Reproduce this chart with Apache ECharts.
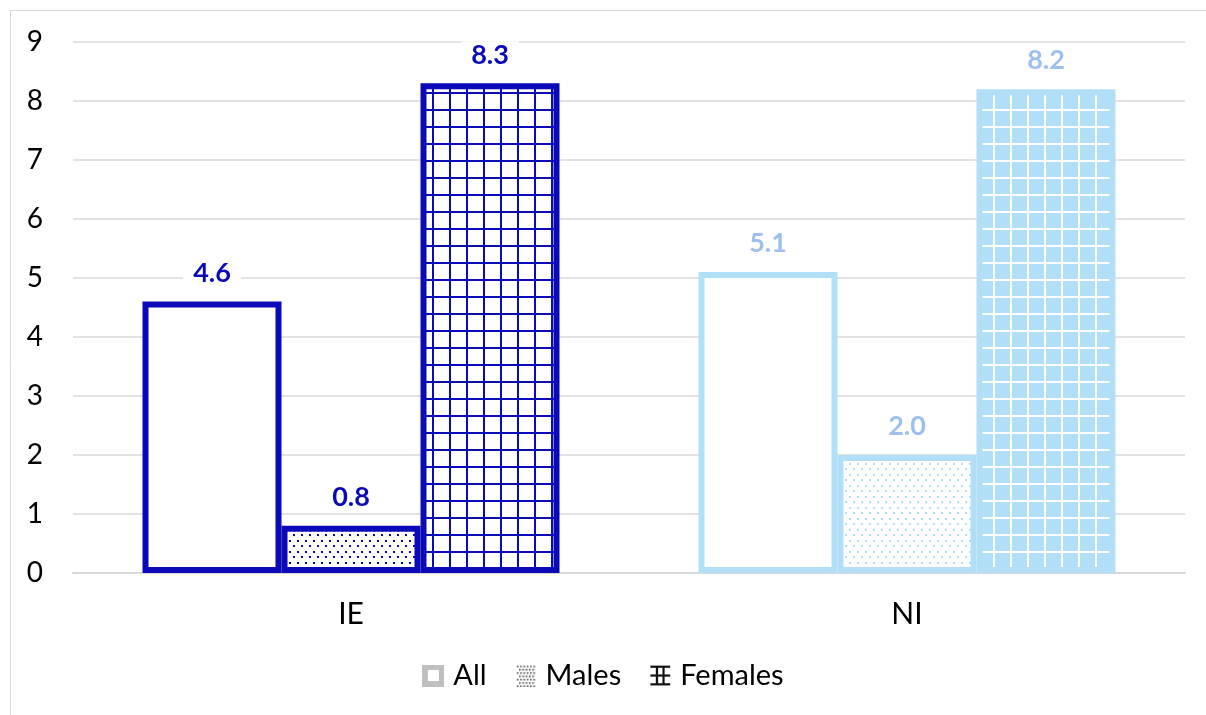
<!DOCTYPE html>
<html>
<head>
<meta charset="utf-8">
<script src="https://cdn.jsdelivr.net/npm/echarts@6/dist/echarts.min.js"></script>
<style>html,body{margin:0;padding:0;background:#fff;}#c{width:1206px;height:715px;}</style>
</head>
<body>
<div id="c"></div>
<script>
var categories = ['IE', 'NI'];
var seriesNames = ['All', 'Males', 'Females'];
var allValues = [4.6, 5.1];
var maleValues = [0.8, 2.0];
var femaleValues = [8.3, 8.2];
var yTicks = [0, 1, 2, 3, 4, 5, 6, 7, 8, 9];

var FONT = 'Lato, "Open Sans", sans-serif';
var dark = '#0A0AB8';
var light = '#B2DFF8';
var darkLabel = '#0A0AB8';
var lightLabel = '#9DBEF0';

function makeCanvas(w, h, draw) {
  var c = document.createElement('canvas');
  c.width = w; c.height = h;
  draw(c.getContext('2d'));
  return c;
}
function dots(color) {
  return makeCanvas(8, 11, function (g) {
    g.fillStyle = '#fff'; g.fillRect(0, 0, 8, 11);
    g.fillStyle = color;
    g.fillRect(1, 1, 2, 2);
    g.fillRect(5, 6, 2, 2);
  });
}
function gridPat(bg, line, w) {
  return makeCanvas(17, 17, function (g) {
    g.fillStyle = bg; g.fillRect(0, 0, 17, 17);
    g.fillStyle = line;
    g.fillRect(7, 0, w, 17);
    g.fillRect(0, 7, 17, w);
  });
}
function pat(c) { return { image: c, repeat: 'repeat' }; }

var BW = 6;
var styles = {
  All: [
    { color: '#fff', borderColor: dark, borderWidth: BW },
    { color: '#fff', borderColor: light, borderWidth: BW }
  ],
  Males: [
    { color: pat(dots(dark)), borderColor: dark, borderWidth: BW },
    { color: pat(dots(light)), borderColor: light, borderWidth: BW }
  ],
  Females: [
    { color: pat(gridPat('#fff', dark, 2)), borderColor: dark, borderWidth: BW },
    { color: pat(gridPat(light, '#fff', 2)), borderColor: light, borderWidth: BW }
  ]
};
var labelColors = [darkLabel, lightLabel];
var valuesByName = { All: allValues, Males: maleValues, Females: femaleValues };

function buildSeries(name) {
  return {
    name: name,
    type: 'bar',
    barWidth: '25%',
    barGap: '0%',
    data: valuesByName[name].map(function (v, i) {
      return {
        value: v,
        itemStyle: styles[name][i],
        label: { color: labelColors[i] }
      };
    }),
    label: {
      show: true,
      position: 'top',
      distance: 15,
      fontFamily: FONT,
      fontWeight: 'bold',
      fontSize: 27,
      backgroundColor: '#fff',
      padding: [0, 10],
      formatter: function (p) { return p.value.toFixed(1); }
    }
  };
}

var legendIconAll = makeCanvas(20, 20, function (g) {
  g.fillStyle = '#BFBFBF'; g.fillRect(0, 0, 20, 20);
  g.fillStyle = '#fff'; g.fillRect(5, 5, 10, 10);
});
var legendIconMale = makeCanvas(20, 20, function (g) {
  g.fillStyle = '#fff'; g.fillRect(0, 0, 20, 20);
  g.fillStyle = '#555';
  for (var y = 1; y < 20; y += 3) for (var x = (y % 2 ? 2 : 4); x < 18; x += 3) g.fillRect(x, y, 1.5, 1.5);
});
var legendIconFemale = makeCanvas(20, 20, function (g) {
  g.fillStyle = '#fff'; g.fillRect(0, 0, 20, 20);
  g.fillStyle = '#111';
  g.fillRect(1, 1, 18, 2); g.fillRect(1, 9, 18, 2); g.fillRect(1, 17, 18, 2);
  g.fillRect(6, 1, 2, 18); g.fillRect(12, 1, 2, 18);
});

var chart = echarts.init(document.getElementById('c'), null, { renderer: 'canvas' });
chart.setOption({
  backgroundColor: '#fff',
  animation: false,
  graphic: [{
    type: 'rect', shape: { x: 10.5, y: 10.5, width: 1200, height: 710 },
    style: { fill: 'none', stroke: '#D9D9D9', lineWidth: 1 }, silent: true
  }],
  grid: { left: 73, right: 21, top: 42, bottom: 142, containLabel: false },
  legend: {
    bottom: 20,
    left: 'center',
    itemWidth: 22,
    itemHeight: 22,
    itemGap: 28,
    textStyle: { fontFamily: FONT, fontSize: 29, color: '#000', padding: [0, 0, 0, 4] },
    data: [
      { name: 'All', icon: 'image://' + legendIconAll.toDataURL() },
      { name: 'Males', icon: 'image://' + legendIconMale.toDataURL() },
      { name: 'Females', icon: 'image://' + legendIconFemale.toDataURL() }
    ]
  },
  xAxis: {
    type: 'category',
    data: categories,
    axisLine: { lineStyle: { color: '#D9D9D9', width: 2 } },
    axisTick: { show: false },
    axisLabel: { fontFamily: FONT, fontSize: 30, color: '#000', margin: 26 }
  },
  yAxis: {
    type: 'value',
    min: yTicks[0],
    max: yTicks[yTicks.length - 1],
    interval: 1,
    axisLine: { show: false },
    axisTick: { show: false },
    splitLine: { lineStyle: { color: '#D9D9D9', width: 1.5 } },
    axisLabel: { fontFamily: FONT, fontSize: 28, color: '#000', margin: 30 }
  },
  series: seriesNames.map(buildSeries)
});
</script>
</body>
</html>
